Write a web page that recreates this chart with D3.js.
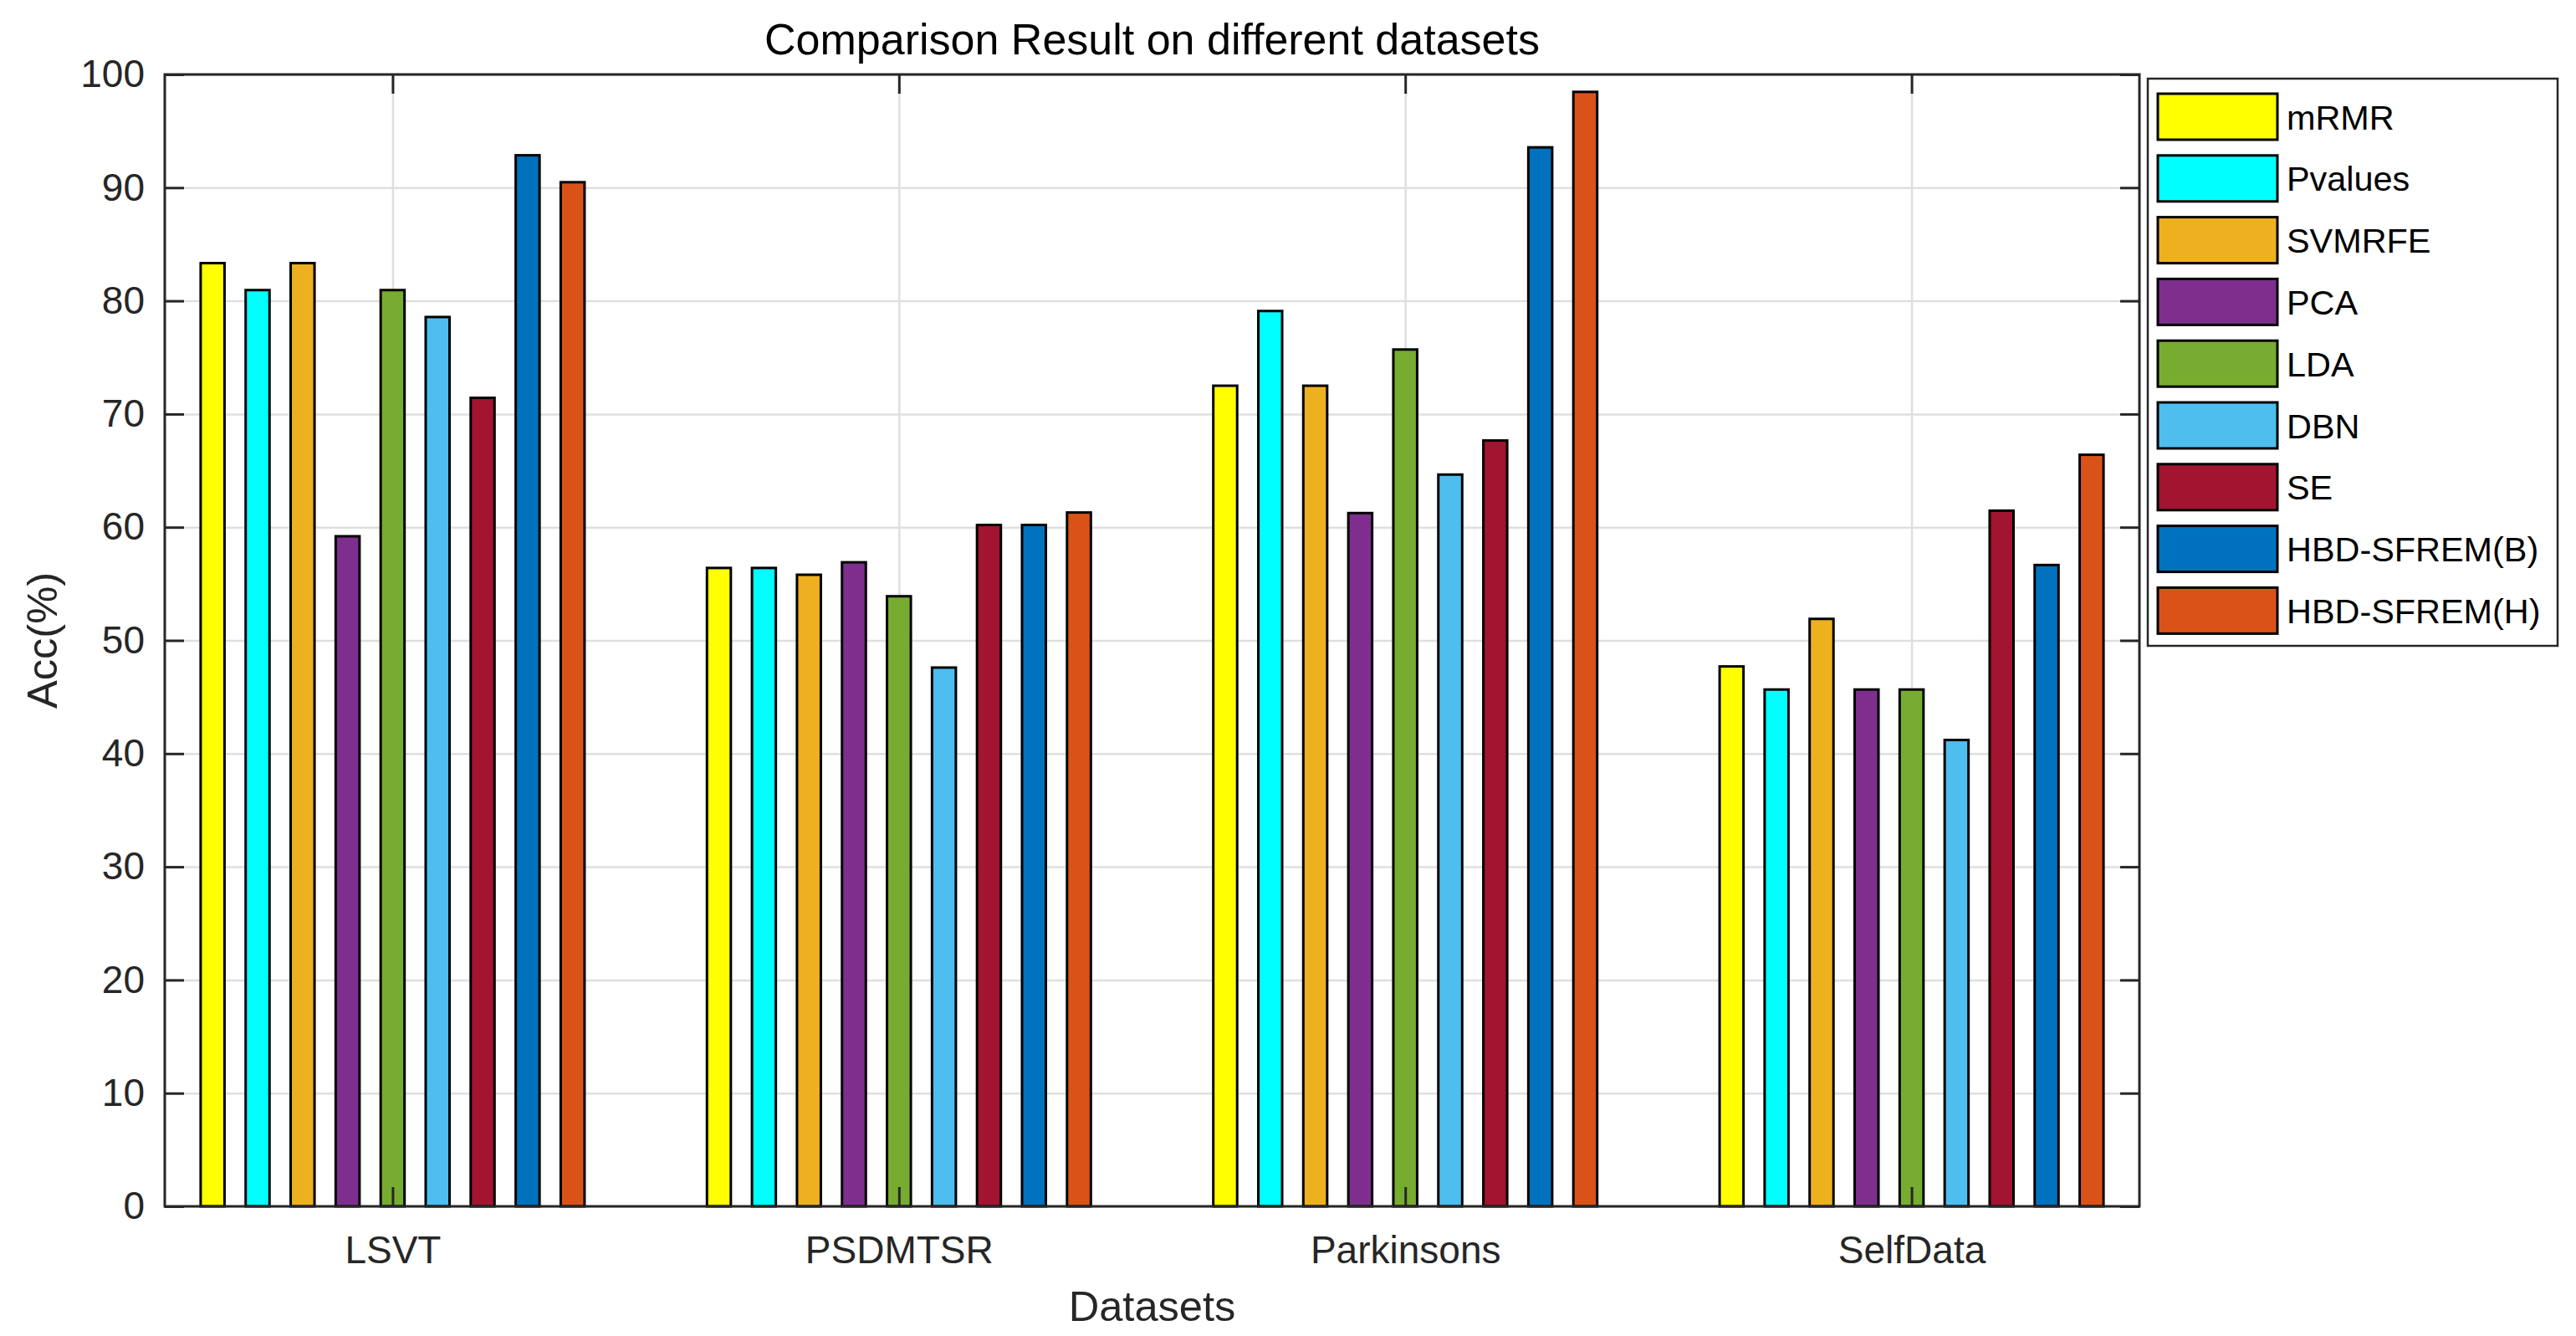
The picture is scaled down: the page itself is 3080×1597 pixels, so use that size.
<!DOCTYPE html>
<html>
<head>
<meta charset="utf-8">
<script src="https://cdn.jsdelivr.net/npm/d3@7/dist/d3.min.js"></script>
<style>
  html, body { margin: 0; padding: 0; background: #fff; }
  svg { display: block; font-family: "Liberation Sans", Arial, Helvetica, sans-serif; }
</style>
</head>
<body>
<svg id="chart" width="3080" height="1597"></svg>
<script>
// ---- data ----
const categories = ["LSVT", "PSDMTSR", "Parkinsons", "SelfData"];
const methods = ["mRMR", "Pvalues", "SVMRFE", "PCA", "LDA", "DBN", "SE", "HBD-SFREM(B)", "HBD-SFREM(H)"];
const colors = ["#FFFF00", "#00FFFF", "#EDB120", "#7E2F8E", "#77AC30", "#4DBEEE", "#A2142F", "#0072BD", "#D95319"];
const mRMR      = [83.33, 56.4, 72.5, 47.7];
const Pvalues   = [80.95, 56.4, 79.1, 45.66];
const SVMRFE    = [83.33, 55.8, 72.5, 51.9];
const PCA       = [59.2, 56.9, 61.25, 45.66];
const LDA       = [80.95, 53.9, 75.7, 45.66];
const DBN       = [78.57, 47.6, 64.65, 41.2];
const SE        = [71.43, 60.2, 67.66, 61.46];
const HBD_B     = [92.86, 60.2, 93.56, 56.66];
const HBD_H     = [90.48, 61.3, 98.46, 66.4];
const seriesValues = [mRMR, Pvalues, SVMRFE, PCA, LDA, DBN, SE, HBD_B, HBD_H];
const yTicks = [0, 10, 20, 30, 40, 50, 60, 70, 80, 90, 100];
const titleText = "Comparison Result on different datasets";
const xLabel = "Datasets";
const yLabel = "Acc(%)";

// ---- layout ----
const L = 197, R = 2558, T = 89, B = 1442;
const svg = d3.select("#chart");
const x = d3.scaleLinear().domain([0.55, 4.45]).range([L, R]);
const y = d3.scaleLinear().domain([0, 100]).range([B, T]);
const axisColor = "#262626";
const gridColor = "#dfdfdf";
const tickFont = 46;
const labelFont = 50.6;

svg.append("rect").attr("x", L).attr("y", T).attr("width", R - L).attr("height", B - T).attr("fill", "#fff");

// grid
const gy = svg.append("g").attr("transform", `translate(${L},0)`)
  .call(d3.axisLeft(y).tickValues(yTicks).tickSize(-(R - L)).tickFormat(""));
gy.select(".domain").remove();
gy.selectAll("line").attr("stroke", gridColor).attr("stroke-width", 2.5);
const gx = svg.append("g").attr("transform", `translate(0,${B})`)
  .call(d3.axisBottom(x).tickValues([1, 2, 3, 4]).tickSize(-(B - T)).tickFormat(""));
gx.select(".domain").remove();
gx.selectAll("line").attr("stroke", gridColor).attr("stroke-width", 2.5);

// bars
const nS = methods.length;
const slot = 0.8 / nS;
const bw = slot * 0.53;
methods.forEach((m, i) => {
  const vals = seriesValues[i];
  svg.append("g").selectAll("rect").data(vals).join("rect")
    .attr("x", (d, j) => x(j + 1 - 0.4 + slot * (i + 0.5) - bw / 2))
    .attr("width", x(bw) - x(0))
    .attr("y", d => y(d))
    .attr("height", d => y(0) - y(d))
    .attr("fill", colors[i])
    .attr("stroke", "#000")
    .attr("stroke-width", 3);
});

// axes with inward ticks
const tickLen = 23;
function styleAxis(g) {
  g.select(".domain").remove();
  g.selectAll("line").attr("stroke", axisColor).attr("stroke-width", 3);
  g.selectAll("text").attr("fill", axisColor).attr("font-size", tickFont)
    .attr("font-family", '"Liberation Sans", Arial, sans-serif');
}
const ax = svg.append("g").attr("transform", `translate(${L},0)`)
  .call(d3.axisLeft(y).tickValues(yTicks).tickSizeInner(-tickLen).tickSizeOuter(0).tickPadding(24));
styleAxis(ax);
const axR = svg.append("g").attr("transform", `translate(${R},0)`)
  .call(d3.axisRight(y).tickValues(yTicks).tickSizeInner(-tickLen).tickSizeOuter(0).tickFormat(""));
styleAxis(axR);
const axB = svg.append("g").attr("transform", `translate(0,${B})`)
  .call(d3.axisBottom(x).tickValues([1, 2, 3, 4]).tickSizeInner(-tickLen).tickSizeOuter(0).tickPadding(35)
    .tickFormat((d, i) => categories[i]));
styleAxis(axB);
const axT = svg.append("g").attr("transform", `translate(0,${T})`)
  .call(d3.axisTop(x).tickValues([1, 2, 3, 4]).tickSizeInner(-tickLen).tickSizeOuter(0).tickFormat(""));
styleAxis(axT);

// box
svg.append("rect").attr("x", L).attr("y", T).attr("width", R - L).attr("height", B - T)
  .attr("fill", "none").attr("stroke", axisColor).attr("stroke-width", 3);

// title and labels
svg.append("text").attr("x", (L + R) / 2).attr("y", 65).attr("text-anchor", "middle")
  .attr("font-size", 52).attr("fill", "#000").text(titleText);
svg.append("text").attr("x", (L + R) / 2).attr("y", 1579).attr("text-anchor", "middle")
  .attr("font-size", labelFont).attr("fill", axisColor).text(xLabel);
svg.append("text").attr("transform", `translate(68,${(T + B) / 2}) rotate(-90)`).attr("text-anchor", "middle")
  .attr("font-size", labelFont).attr("fill", axisColor).text(yLabel);

// legend
const lg = svg.append("g");
lg.append("rect").attr("x", 2568).attr("y", 94).attr("width", 490).attr("height", 678)
  .attr("fill", "#fff").attr("stroke", axisColor).attr("stroke-width", 2.5);
const rows = lg.selectAll("g.row").data(methods).join("g").attr("class", "row")
  .attr("transform", (d, i) => `translate(2580,${112 + i * 73.8})`);
rows.append("rect").attr("width", 143).attr("height", 55)
  .attr("fill", (d, i) => colors[i]).attr("stroke", "#000").attr("stroke-width", 3);
rows.append("text").attr("x", 154).attr("y", 27.5 + 15).attr("font-size", 41.4)
  .attr("fill", "#000").text(d => d);
</script>
</body>
</html>
